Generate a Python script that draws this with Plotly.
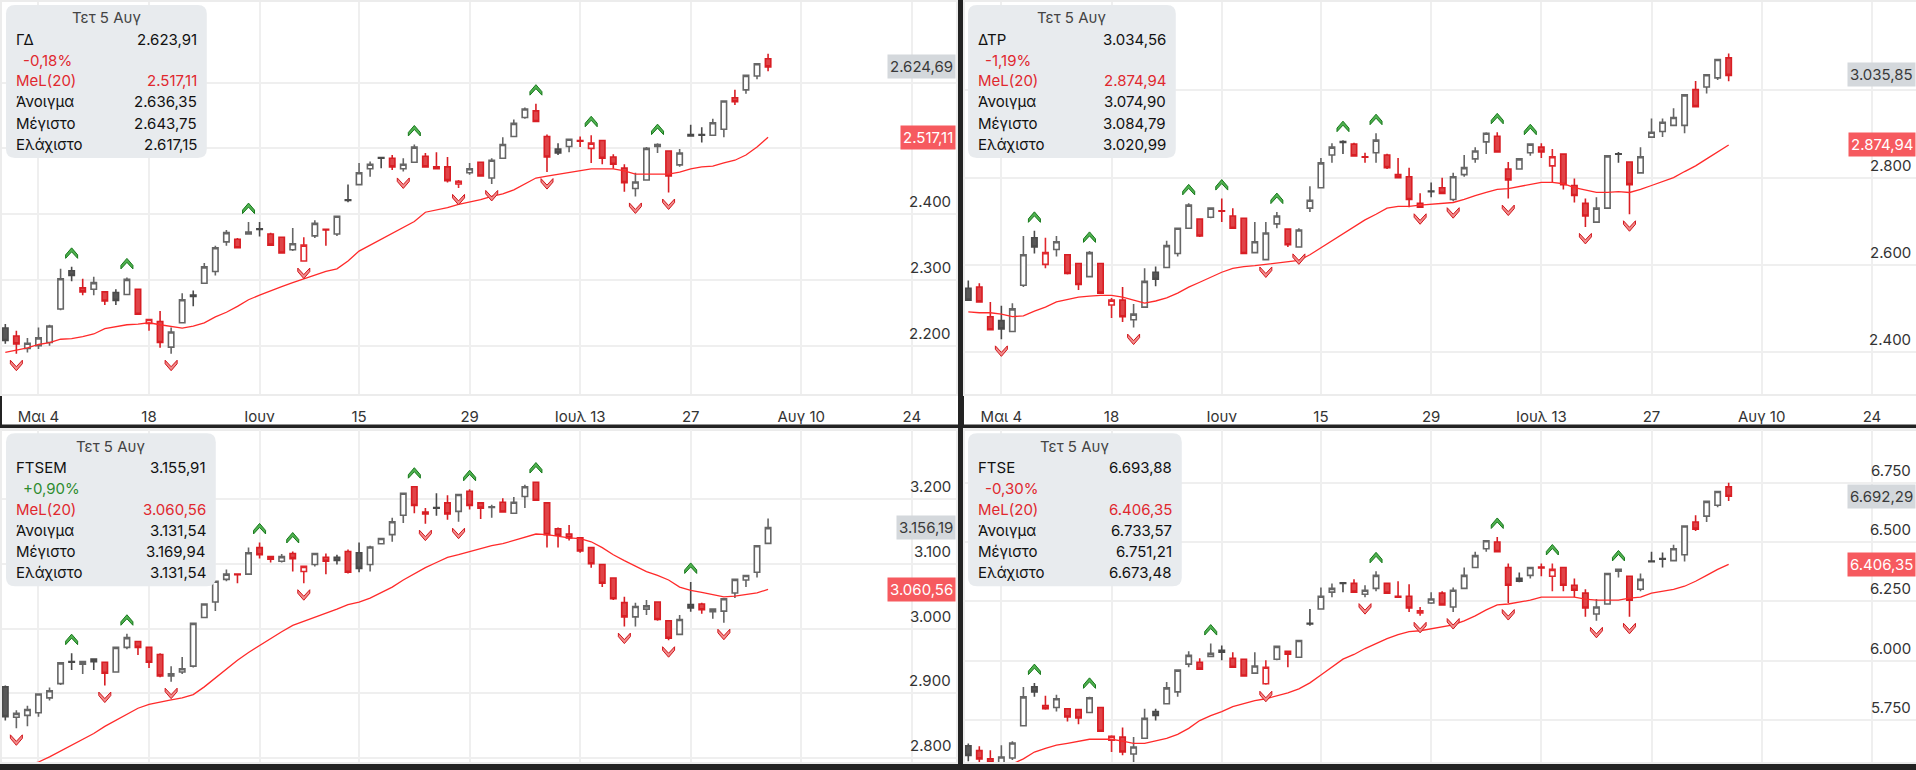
import pandas as pd
import plotly.graph_objects as go

W, H = 1916, 770
FONT = "Inter, Roboto, sans-serif"

# trading calendar (exchange closed on May 1 and Jun 8)
holidays = ["2020-05-01", "2020-06-08"]
calendar = [d for d in pd.bdate_range("2020-04-28", "2020-08-31")
            if d.strftime("%Y-%m-%d") not in holidays]
dates = calendar[:70]
xi = list(range(len(dates)))

tick_dates = ["2020-05-04", "2020-05-18", "2020-06-01", "2020-06-15", "2020-06-29",
              "2020-07-13", "2020-07-27", "2020-08-10", "2020-08-24"]
tick_labels = ["Μαι 4", "18", "Ιουν", "15", "29", "Ιουλ 13", "27", "Αυγ 10", "24"]
tick_pos = [calendar.index(pd.Timestamp(d)) for d in tick_dates]

# --- ΓΔ ---
gd_open = [2227, 2215, 2196, 2200, 2205, 2256, 2314, 2288, 2286, 2282,
           2281, 2278, 2286, 2234, 2237, 2198, 2235, 2277, 2295, 2313,
           2358, 2362, 2370, 2378, 2370, 2365, 2346, 2329, 2367, 2377,
           2370, 2422, 2445, 2469, 2486, 2485, 2469, 2479, 2488, 2472,
           2472, 2446, 2463, 2479, 2455, 2485, 2518, 2547, 2557, 2518,
           2499, 2503, 2512, 2500, 2512, 2487, 2470, 2439, 2452, 2503,
           2496, 2475, 2521, 2521, 2520, 2529, 2577, 2589, 2610, 2636.35]
gd_high = [2233, 2223, 2212, 2228, 2232, 2317, 2320, 2302, 2305, 2283,
           2286, 2304, 2287, 2241, 2253, 2228, 2280, 2284, 2326, 2352,
           2376, 2364, 2388, 2388, 2372, 2366, 2379, 2365, 2391, 2378,
           2398, 2445, 2478, 2480, 2487, 2490, 2485, 2506, 2493, 2494,
           2487, 2452, 2478, 2480, 2485, 2517, 2544, 2562, 2568, 2521,
           2508, 2515, 2518, 2520, 2513, 2491, 2476, 2463, 2502, 2508,
           2497, 2499, 2536, 2532, 2545, 2572, 2589, 2611, 2629, 2643.75]
gd_low = [2203, 2188, 2190, 2195, 2200, 2254, 2298, 2277, 2277, 2262,
          2262, 2277, 2247, 2223, 2197, 2188, 2234, 2260, 2294, 2307,
          2352, 2348, 2370, 2366, 2352, 2340, 2344, 2328, 2364, 2352,
          2367, 2418, 2445, 2457, 2470, 2467, 2465, 2478, 2471, 2469,
          2448, 2440, 2460, 2457, 2446, 2485, 2517, 2545, 2541, 2464,
          2490, 2494, 2502, 2478, 2476, 2469, 2434, 2427, 2452, 2493,
          2433, 2472, 2518, 2509, 2520, 2517, 2566, 2583, 2605, 2617.15]
gd_close = [2208, 2203, 2204, 2212, 2230, 2302, 2307, 2282, 2296, 2268,
            2269, 2301, 2248, 2240, 2205, 2221, 2270, 2275, 2320, 2349,
            2372, 2349, 2373, 2377, 2353, 2341, 2355, 2353, 2386, 2376,
            2397, 2421, 2463, 2476, 2485, 2472, 2476, 2502, 2472, 2469,
            2451, 2450, 2469, 2458, 2482, 2506, 2538, 2560, 2541, 2487,
            2493, 2514, 2511, 2508, 2485, 2476, 2448, 2449, 2500, 2506,
            2458, 2493, 2519, 2520, 2539, 2572, 2571, 2611, 2628.64, 2623.91]
gd_ma = [2190, 2193, 2197, 2202, 2205, 2210, 2211, 2214, 2218, 2226,
         2229, 2232, 2233, 2235, 2232, 2229, 2227, 2230, 2235, 2244,
         2251, 2260, 2270, 2277, 2284, 2290, 2296, 2302, 2308, 2313,
         2317, 2329, 2344, 2353, 2362, 2371, 2379, 2389, 2403, 2406,
         2410, 2415, 2418, 2422, 2427, 2431, 2437, 2446, 2455, 2458,
         2461, 2464, 2467, 2469, 2469, 2469, 2466, 2461, 2461, 2461,
         2461, 2464, 2469, 2472, 2473, 2478, 2482, 2490, 2502, 2517.11]
gd_peaks = [6, 11, 22, 37, 48, 53, 59]
gd_troughs = [1, 15, 27, 36, 41, 44, 49, 57, 60]
gd_last = 2624.69

# --- ΔΤΡ ---
dtr_open = [2546, 2549, 2481, 2472, 2447, 2553, 2662, 2601, 2635, 2623,
            2603, 2573, 2603, 2508, 2519, 2474, 2503, 2583, 2594, 2626,
            2684, 2705, 2709, 2724, 2712, 2707, 2628, 2612, 2694, 2682,
            2641, 2730, 2777, 2852, 2883, 2877, 2848, 2857, 2852, 2807,
            2802, 2741, 2769, 2777, 2750, 2807, 2843, 2882, 2895, 2820,
            2820, 2857, 2870, 2827, 2854, 2782, 2741, 2698, 2730, 2855,
            2836, 2811, 2893, 2906, 2920, 2920, 3002, 3008, 3029, 3074.90]
dtr_high = [2564, 2558, 2515, 2506, 2512, 2666, 2678, 2662, 2666, 2623,
            2605, 2632, 2605, 2524, 2549, 2510, 2592, 2596, 2655, 2684,
            2741, 2707, 2732, 2752, 2730, 2707, 2698, 2698, 2721, 2682,
            2684, 2780, 2845, 2879, 2886, 2880, 2857, 2902, 2855, 2845,
            2823, 2764, 2789, 2800, 2811, 2852, 2870, 2904, 2904, 2836,
            2843, 2879, 2879, 2866, 2854, 2798, 2752, 2755, 2850, 2859,
            2836, 2870, 2936, 2936, 2959, 2990, 3022, 3036, 3071.1, 3084.79]
dtr_low = [2517, 2514, 2451, 2429, 2447, 2549, 2626, 2592, 2619, 2578,
           2542, 2571, 2533, 2478, 2469, 2456, 2503, 2551, 2594, 2619,
           2684, 2664, 2707, 2698, 2682, 2624, 2626, 2610, 2684, 2641,
           2640, 2721, 2777, 2834, 2854, 2848, 2834, 2834, 2820, 2800,
           2732, 2732, 2755, 2762, 2746, 2802, 2834, 2854, 2857, 2752,
           2818, 2850, 2845, 2789, 2773, 2743, 2687, 2698, 2730, 2834,
           2716, 2809, 2893, 2893, 2918, 2902, 2961, 2993, 3024, 3020.99]
dtr_close = [2519, 2515, 2451, 2453, 2499, 2623, 2641, 2628, 2653, 2580,
             2555, 2628, 2535, 2519, 2481, 2487, 2562, 2567, 2644, 2684,
             2737, 2666, 2730, 2723, 2684, 2626, 2653, 2673, 2712, 2646,
             2680, 2748, 2834, 2870, 2881, 2850, 2847, 2886, 2823, 2800,
             2750, 2732, 2768, 2764, 2802, 2823, 2861, 2902, 2859, 2795,
             2843, 2877, 2859, 2848, 2784, 2759, 2712, 2730, 2850, 2854,
             2784, 2848, 2904, 2927, 2938, 2990, 2963, 3036, 3071.1, 3034.56]
dtr_ma = [2492, 2490, 2490, 2487, 2481, 2483, 2494, 2503, 2515, 2521,
          2526, 2528, 2530, 2530, 2526, 2519, 2512, 2517, 2524, 2535,
          2549, 2560, 2571, 2583, 2592, 2596, 2598, 2601, 2605, 2607,
          2610, 2623, 2639, 2655, 2671, 2689, 2703, 2716, 2730, 2734,
          2734, 2737, 2739, 2741, 2743, 2750, 2759, 2766, 2773, 2775,
          2780, 2784, 2789, 2789, 2786, 2777, 2771, 2766, 2766, 2768,
          2766, 2773, 2782, 2791, 2800, 2814, 2827, 2843, 2859, 2874.94]
dtr_peaks = [6, 11, 20, 23, 28, 34, 37, 48, 51]
dtr_troughs = [3, 15, 27, 30, 41, 44, 49, 56, 60]
dtr_last = 3035.85

# --- FTSEM ---
ftsem_open = [2910, 2863, 2866, 2870, 2893, 2915, 2949, 2945, 2953, 2948,
              2933, 2971, 2980, 2971, 2960, 2927, 2933, 2942, 3017, 3041,
              3076, 3084, 3084, 3125, 3111, 3104, 3116, 3088, 3099, 3110,
              3110, 3119, 3117, 3099, 3131, 3145, 3175, 3219, 3180, 3187,
              3194, 3181, 3212, 3194, 3187, 3195, 3178, 3204, 3226, 3194,
              3154, 3146, 3140, 3125, 3099, 3078, 3040, 3018, 3030, 3041,
              3012, 2991, 3037, 3038, 3026, 3027, 3055, 3075, 3087, 3131.54]
ftsem_high = [2912, 2874, 2881, 2899, 2909, 2947, 2962, 2950, 2954, 2949,
              2972, 2992, 2981, 2972, 2962, 2942, 2956, 3008, 3038, 3073,
              3091, 3085, 3125, 3133, 3111, 3115, 3119, 3096, 3116, 3116,
              3114, 3122, 3133, 3128, 3139, 3171, 3209, 3219, 3186, 3209,
              3206, 3207, 3215, 3194, 3191, 3201, 3203, 3222, 3227, 3194,
              3156, 3160, 3140, 3125, 3099, 3078, 3049, 3040, 3044, 3041,
              3012, 3021, 3072, 3040, 3030, 3046, 3076, 3082, 3128, 3169.94]
ftsem_low = [2858, 2846, 2849, 2864, 2889, 2913, 2936, 2930, 2936, 2912,
             2932, 2968, 2959, 2939, 2925, 2918, 2930, 2940, 3017, 3027,
             3073, 3070, 3084, 3108, 3102, 3102, 3088, 3070, 3096, 3084,
             3099, 3085, 3087, 3088, 3131, 3134, 3163, 3178, 3162, 3174,
             3168, 3165, 3184, 3169, 3171, 3179, 3178, 3186, 3198, 3125,
             3125, 3136, 3117, 3094, 3064, 3044, 3003, 3003, 3021, 3012,
             2982, 2990, 3026, 3023, 3015, 3009, 3047, 3064, 3079, 3131.54]
ftsem_close = [2864, 2869, 2875, 2899, 2904, 2947, 2948, 2949, 2949, 2931,
               2971, 2986, 2971, 2948, 2927, 2930, 2938, 3008, 3038, 3073,
               3084, 3083, 3117, 3114, 3107, 3111, 3108, 3096, 3116, 3104,
               3105, 3087, 3093, 3126, 3139, 3165, 3209, 3190, 3177, 3186,
               3177, 3207, 3190, 3186, 3188, 3180, 3195, 3219, 3198, 3145,
               3144, 3140, 3120, 3100, 3070, 3046, 3018, 3034, 3035, 3014,
               2985, 3014, 3032, 3029, 3030, 3046, 3076, 3082, 3127.76, 3155.91]
ftsem_ma = [2780, 2785, 2790, 2794, 2802, 2811, 2820, 2829, 2838, 2849,
            2858, 2867, 2877, 2883, 2887, 2890, 2893, 2898, 2910, 2924,
            2938, 2951, 2963, 2974, 2985, 2995, 3005, 3011, 3018, 3024,
            3030, 3037, 3041, 3047, 3055, 3064, 3075, 3085, 3094, 3102,
            3110, 3114, 3119, 3123, 3128, 3131, 3136, 3142, 3146, 3145,
            3142, 3140, 3139, 3134, 3125, 3114, 3105, 3096, 3088, 3082,
            3075, 3064, 3059, 3056, 3052, 3049, 3050, 3052, 3055, 3060.56]
ftsem_peaks = [6, 11, 23, 26, 37, 42, 48, 62]
ftsem_troughs = [1, 9, 15, 27, 38, 41, 56, 60, 65]
ftsem_last = 3156.19

# --- FTSE ---
ftse_open = [5640, 5620, 5585, 5560, 5589, 5725, 5889, 5810, 5802, 5797,
             5793, 5781, 5802, 5664, 5677, 5606, 5672, 5785, 5818, 5868,
             5985, 5993, 6018, 6043, 6010, 6006, 5947, 5902, 6006, 6039,
             6014, 6158, 6218, 6289, 6328, 6326, 6280, 6305, 6326, 6272,
             6272, 6201, 6243, 6285, 6226, 6305, 6393, 6472, 6501, 6393,
             6347, 6360, 6395, 6356, 6393, 6318, 6285, 6197, 6239, 6377,
             6356, 6301, 6420, 6431, 6422, 6447, 6585, 6610, 6656, 6733.57]
ftse_high = [5650, 5639, 5622, 5643, 5660, 5889, 5905, 5852, 5856, 5797,
             5797, 5847, 5802, 5685, 5718, 5677, 5797, 5797, 5910, 5960,
             6039, 6010, 6072, 6064, 6035, 6006, 6035, 6002, 6064, 6043,
             6085, 6218, 6309, 6326, 6330, 6343, 6318, 6377, 6330, 6335,
             6322, 6226, 6289, 6293, 6309, 6393, 6460, 6506, 6522, 6410,
             6372, 6393, 6410, 6410, 6393, 6347, 6301, 6260, 6368, 6385,
             6356, 6368, 6460, 6456, 6489, 6568, 6614, 6672, 6714, 6751.21]
ftse_low = [5575, 5560, 5550, 5545, 5580, 5722, 5847, 5793, 5785, 5743,
            5731, 5781, 5700, 5614, 5600, 5570, 5672, 5747, 5818, 5847,
            5972, 5964, 6018, 6002, 5972, 5935, 5943, 5898, 6002, 5972,
            6014, 6147, 6218, 6268, 6289, 6285, 6268, 6293, 6285, 6268,
            6205, 6189, 6239, 6235, 6205, 6305, 6393, 6460, 6460, 6243,
            6331, 6347, 6356, 6293, 6293, 6268, 6185, 6168, 6239, 6351,
            6185, 6293, 6418, 6393, 6422, 6418, 6547, 6585, 6647, 6673.48]
ftse_close = [5600, 5585, 5570, 5593, 5652, 5847, 5868, 5797, 5839, 5762,
              5758, 5843, 5702, 5681, 5614, 5635, 5756, 5768, 5885, 5960,
              6022, 5964, 6031, 6035, 5972, 5935, 5977, 5972, 6060, 6027,
              6085, 6155, 6272, 6305, 6326, 6289, 6297, 6360, 6285, 6268,
              6222, 6210, 6260, 6235, 6297, 6360, 6443, 6506, 6460, 6318,
              6335, 6393, 6391, 6385, 6318, 6297, 6222, 6226, 6368, 6385,
              6255, 6343, 6418, 6428, 6472, 6568, 6555, 6672, 6714, 6693.88]
ftse_ma = [5510, 5526, 5539, 5551, 5564, 5585, 5614, 5630, 5643, 5651,
           5660, 5668, 5668, 5668, 5660, 5651, 5651, 5660, 5672, 5689,
           5714, 5747, 5768, 5785, 5806, 5818, 5831, 5839, 5852, 5864,
           5881, 5906, 5939, 5972, 6006, 6026, 6051, 6072, 6093, 6110,
           6122, 6126, 6135, 6143, 6151, 6168, 6189, 6214, 6235, 6239,
           6247, 6255, 6268, 6268, 6268, 6268, 6260, 6255, 6255, 6255,
           6264, 6268, 6285, 6293, 6301, 6314, 6335, 6360, 6385, 6406.35]
ftse_peaks = [6, 11, 22, 37, 48, 53, 59]
ftse_troughs = [1, 15, 27, 36, 41, 44, 49, 57, 60]
ftse_last = 6692.29

gd_grid = [2200, 2300, 2400, 2500, 2600]
dtr_grid = [2400, 2600, 2800, 3000]
ftsem_grid = [2800, 2900, 3000, 3100, 3200]
ftse_grid = [5750, 6000, 6250, 6500, 6750]

# panel settings: name, data, grid, y-range, plot box (px), panel origin, info box width
panels = [
    ("ΓΔ", gd_open, gd_high, gd_low, gd_close, gd_ma, gd_peaks, gd_troughs, gd_last,
     gd_grid, [2127, 2722.5], (0, 0, 955, 397), (0, 0), 201),
    ("ΔΤΡ", dtr_open, dtr_high, dtr_low, dtr_close, dtr_ma, dtr_peaks, dtr_troughs, dtr_last,
     dtr_grid, [2304, 3203], (964, 0, 1916, 397), (963, 0), 208),
    ("FTSEM", ftsem_open, ftsem_high, ftsem_low, ftsem_close, ftsem_ma, ftsem_peaks, ftsem_troughs,
     ftsem_last, ftsem_grid, [2794, 3306], (0, 434, 955, 770), (0, 434), 210),
    ("FTSE", ftse_open, ftse_high, ftse_low, ftse_close, ftse_ma, ftse_peaks, ftse_troughs,
     ftse_last, ftse_grid, [5572, 6972], (964, 434, 1916, 770), (963, 434), 214),
]

backgrounds = [(0, 0, 957, 428), (963, 0, 1916, 428), (0, 434, 957, 770), (963, 434, 1916, 770)]

UP_PATH = "M-6,12 L0,19 L6,12 L6,8.5 L0,15 L-6,8.5 Z"
DOWN_PATH = "M-6,-10 L0,-17 L6,-10 L6,-6.5 L0,-13 L-6,-6.5 Z"


def gr(v):
    s = f"{v:,.2f}"
    return s.replace(",", " ").replace(".", ",").replace(" ", ".")


def px(x):
    return x / W


def py(y):
    return 1 - y / H


def rounded_box(x0, y0, x1, y1, r):
    return (f"M{px(x0 + r)},{py(y0)} L{px(x1 - r)},{py(y0)} Q{px(x1)},{py(y0)} {px(x1)},{py(y0 + r)} "
            f"L{px(x1)},{py(y1 - r)} Q{px(x1)},{py(y1)} {px(x1 - r)},{py(y1)} "
            f"L{px(x0 + r)},{py(y1)} Q{px(x0)},{py(y1)} {px(x0)},{py(y1 - r)} "
            f"L{px(x0)},{py(y0 + r)} Q{px(x0)},{py(y0)} {px(x0 + r)},{py(y0)} Z")


fig = go.Figure()
shapes = []
annotations = []
layout = {}

for bx in backgrounds:
    shapes.append(dict(type="rect", xref="paper", yref="paper", x0=px(bx[0]), x1=px(bx[2]),
                       y0=py(bx[3]), y1=py(bx[1]), fillcolor="white", line=dict(width=0), layer="below"))

for k, (name, o, h, l, c, ma, peaks, troughs, last, grid, yrange, box, org, bw) in enumerate(panels, start=1):
    xr = "x" if k == 1 else f"x{k}"
    yr = "y" if k == 1 else f"y{k}"
    xkey = "xaxis" if k == 1 else f"xaxis{k}"
    ykey = "yaxis" if k == 1 else f"yaxis{k}"

    prev = [c[0]] + c[:-1]
    up = [c[i] >= prev[i] for i in xi]

    def pick(arr, flag):
        return [arr[i] if up[i] == flag else None for i in xi]

    # candles that closed at/above the previous close (grey)
    fig.add_trace(go.Candlestick(
        x=xi, open=pick(o, True), high=pick(h, True), low=pick(l, True), close=pick(c, True),
        xaxis=xr, yaxis=yr, whiskerwidth=0, hoverinfo="skip", showlegend=False,
        increasing=dict(fillcolor="white", line=dict(color="#666666", width=1.6)),
        decreasing=dict(fillcolor="#585858", line=dict(color="#4a4a4a", width=1.6)),
    ))
    # candles that closed below the previous close (red)
    fig.add_trace(go.Candlestick(
        x=xi, open=pick(o, False), high=pick(h, False), low=pick(l, False), close=pick(c, False),
        xaxis=xr, yaxis=yr, whiskerwidth=0, hoverinfo="skip", showlegend=False,
        increasing=dict(fillcolor="white", line=dict(color="#e0282e", width=1.6)),
        decreasing=dict(fillcolor="#e04448", line=dict(color="#d81e24", width=1.6)),
    ))
    fig.add_trace(go.Scatter(x=xi, y=ma, mode="lines", xaxis=xr, yaxis=yr, hoverinfo="skip",
                             showlegend=False, line=dict(color="#ff2a2a", width=1.3)))

    layout[xkey] = dict(
        domain=[px(box[0]), px(box[2])], range=[-0.3, 86.0], anchor=yr,
        tickmode="array", tickvals=tick_pos, ticktext=tick_labels,
        showticklabels=k <= 2, ticks="outside", ticklen=8, tickcolor="rgba(0,0,0,0)",
        tickfont=dict(size=15, color="#333333"),
        showgrid=True, gridcolor="#efefef", gridwidth=2, zeroline=False,
        showline=True, linecolor="#ececec", linewidth=2, mirror=True,
        rangeslider=dict(visible=False), fixedrange=True,
    )
    layout[ykey] = dict(
        domain=[py(box[3]), py(box[1])], range=yrange, anchor=xr, side="right",
        tickmode="array", tickvals=grid, showticklabels=False,
        showgrid=True, gridcolor="#efefef", gridwidth=2, zeroline=False,
        showline=True, linecolor="#ececec", linewidth=2, mirror=True, fixedrange=True,
    )

    # y tick labels sit just above their grid lines, inside the plot on the right
    for g in grid:
        annotations.append(dict(xref=f"{xr} domain", x=1, xanchor="right", xshift=-3,
                                yref=yr, y=g, yanchor="bottom", yshift=1,
                                text=f"{g:,d}".replace(",", "."), showarrow=False,
                                font=dict(size=15, color="#333333")))

    # fractal markers
    for i in peaks:
        shapes.append(dict(type="path", xref=xr, yref=yr, xsizemode="pixel", ysizemode="pixel",
                           xanchor=i, yanchor=h[i], path=UP_PATH, fillcolor="#4fb04f",
                           line=dict(color="#16781b", width=1), layer="above"))
    for i in troughs:
        shapes.append(dict(type="path", xref=xr, yref=yr, xsizemode="pixel", ysizemode="pixel",
                           xanchor=i, yanchor=l[i], path=DOWN_PATH, fillcolor="#f08a8a",
                           line=dict(color="#d2161c", width=1), layer="above"))

    # price tags on the right
    annotations.append(dict(xref=f"{xr} domain", x=1, xanchor="right", yref=yr, y=last,
                            text=gr(last), showarrow=False, bgcolor="#d4d8dc", borderpad=2,
                            font=dict(size=15, color="#3a3a3a")))
    annotations.append(dict(xref=f"{xr} domain", x=1, xanchor="right", yref=yr, y=ma[-1],
                            text=gr(ma[-1]), showarrow=False, bgcolor="#f65a5f", borderpad=2,
                            font=dict(size=15, color="white")))

    # info box
    ox, oy = org
    shapes.append(dict(type="path", xref="paper", yref="paper",
                       path=rounded_box(ox + 4, oy + 3, ox + 4 + bw, oy + 158, 9),
                       fillcolor="#e8ebee", line=dict(width=0), layer="above"))
    pct = (c[-1] / c[-2] - 1) * 100
    pct_txt = f"{pct:+.2f}%".replace(".", ",")
    pct_col = "#2e8b2e" if pct >= 0 else "#e0282e"
    rows = [(name, gr(c[-1]), "#111111"), (pct_txt, "", pct_col), ("MeL(20)", gr(ma[-1]), "#e0282e"),
            ("Άνοιγμα", gr(o[-1]), "#111111"), ("Μέγιστο", gr(h[-1]), "#111111"),
            ("Ελάχιστο", gr(l[-1]), "#111111")]
    row_y = [38, 59, 80, 101, 123, 144]
    annotations.append(dict(xref="paper", yref="paper", x=px(ox + 4 + bw / 2), y=py(oy + 16),
                            text="Τετ 5 Αυγ", showarrow=False, xanchor="center", yanchor="middle",
                            font=dict(size=15, color="#444444")))
    for (lab, val, col), ry in zip(rows, row_y):
        lx = ox + 19 if lab == pct_txt else ox + 12
        annotations.append(dict(xref="paper", yref="paper", x=px(lx), y=py(oy + ry), text=lab,
                                showarrow=False, xanchor="left", yanchor="middle",
                                font=dict(size=15, color=col)))
        if val:
            annotations.append(dict(xref="paper", yref="paper", x=px(ox + bw - 4), y=py(oy + ry),
                                    text=val, showarrow=False, xanchor="right", yanchor="middle",
                                    font=dict(size=15, color=col)))

fig.update_layout(
    width=W, height=H, margin=dict(l=0, r=0, t=0, b=0),
    paper_bgcolor="#232323", plot_bgcolor="white",
    font=dict(family=FONT, size=15, color="#333333"),
    showlegend=False, hovermode=False,
    shapes=shapes, annotations=annotations, **layout,
)

# the page's default body margin would push the figure 8px off the window
fig.write_html("out.html", config={"displayModeBar": False},
               post_script="document.body.style.margin='0px';")
